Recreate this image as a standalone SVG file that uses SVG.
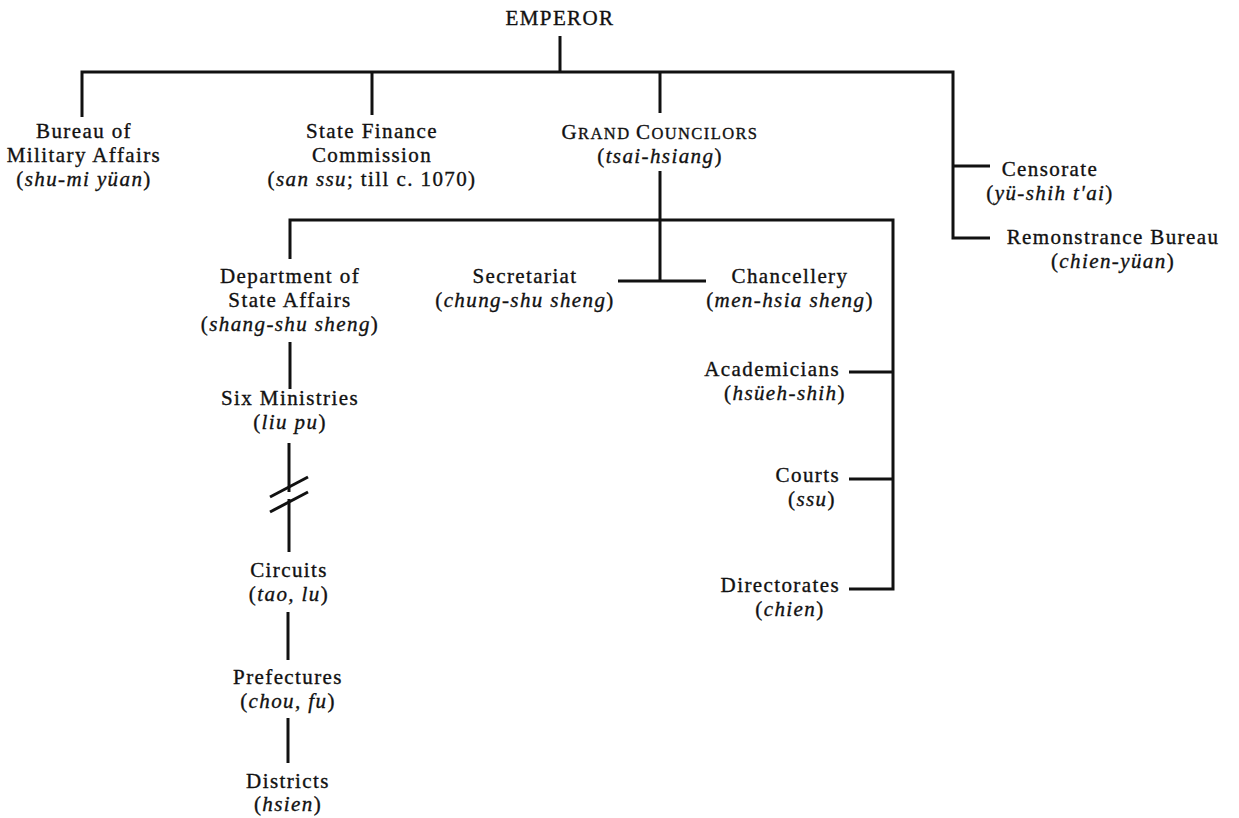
<svg xmlns="http://www.w3.org/2000/svg" width="1239" height="818" viewBox="0 0 1239 818">
  <style>
    text { font-family: "Liberation Serif", "Times New Roman", serif; font-size: 21px; letter-spacing: 1.4px; fill: #111; stroke: #111; stroke-width: 0.35; text-anchor: middle; }
    .it { font-style: italic; }
    .sc { font-size: 16.5px; }
    .end { text-anchor: end; }
    #connectors path { fill: none; stroke: #111; stroke-width: 3; stroke-linecap: butt; stroke-linejoin: miter; }
  </style>
  <rect width="1239" height="818" fill="#fff"/>

  <g id="connectors">
    <path d="M560 36 V72"/>
    <path d="M82 117 V72 H953 V238 H990"/>
    <path d="M372 72 V115"/>
    <path d="M660 72 V113"/>
    <path d="M953 166 H990"/>
    <path d="M660 171 V281"/>
    <path d="M618 281 H706"/>
    <path d="M290 259 V220 H893 V589 H849"/>
    <path d="M849 372 H893"/>
    <path d="M849 479 H893"/>
    <path d="M290 342 V389"/>
    <!-- broken link between ministries and circuits -->
    <path d="M289 443 V492"/>
    <path d="M289 499 V552"/>
    <path d="M270 497 L308 477"/>
    <path d="M270 512 L308 492"/>
    <path d="M288 612 V660"/>
    <path d="M288 718 V763"/>
  </g>

  <g id="emperor"><text x="560" y="25">EMPEROR</text></g>

  <g id="military">
    <text x="84" y="138">Bureau of</text>
    <text x="84" y="162">Military Affairs</text>
    <text x="84" y="186">(<tspan class="it">shu-mi yüan</tspan>)</text>
  </g>

  <g id="finance">
    <text x="372" y="138">State Finance</text>
    <text x="372" y="162">Commission</text>
    <text x="372" y="186">(<tspan class="it">san ssu</tspan>; till c. 1070)</text>
  </g>

  <g id="councilors">
    <text x="660" y="139">G<tspan class="sc">RAND </tspan>C<tspan class="sc">OUNCILORS</tspan></text>
    <text x="660" y="163">(<tspan class="it">tsai-hsiang</tspan>)</text>
  </g>

  <g id="censorate">
    <text x="1050" y="176">Censorate</text>
    <text x="1050" y="200">(<tspan class="it">yü-shih t'ai</tspan>)</text>
  </g>

  <g id="remonstrance">
    <text x="1113" y="244">Remonstrance Bureau</text>
    <text x="1113" y="268">(<tspan class="it">chien-yüan</tspan>)</text>
  </g>

  <g id="state-affairs">
    <text x="290" y="283">Department of</text>
    <text x="290" y="307">State Affairs</text>
    <text x="290" y="331">(<tspan class="it">shang-shu sheng</tspan>)</text>
  </g>

  <g id="secretariat">
    <text x="525" y="283">Secretariat</text>
    <text x="525" y="307">(<tspan class="it">chung-shu sheng</tspan>)</text>
  </g>

  <g id="chancellery">
    <text x="790" y="283">Chancellery</text>
    <text x="790" y="307">(<tspan class="it">men-hsia sheng</tspan>)</text>
  </g>

  <g id="ministries">
    <text x="290" y="405">Six Ministries</text>
    <text x="290" y="429">(<tspan class="it">liu pu</tspan>)</text>
  </g>

  <g id="circuits">
    <text x="289" y="577">Circuits</text>
    <text x="289" y="601">(<tspan class="it">tao, lu</tspan>)</text>
  </g>

  <g id="prefectures">
    <text x="288" y="684">Prefectures</text>
    <text x="288" y="708">(<tspan class="it">chou, fu</tspan>)</text>
  </g>

  <g id="districts">
    <text x="288" y="788">Districts</text>
    <text x="288" y="811">(<tspan class="it">hsien</tspan>)</text>
  </g>

  <g id="academicians">
    <text class="end" x="840" y="376">Academicians</text>
    <text x="785" y="400">(<tspan class="it">hsüeh-shih</tspan>)</text>
  </g>

  <g id="courts">
    <text class="end" x="840" y="482">Courts</text>
    <text x="812" y="506">(<tspan class="it">ssu</tspan>)</text>
  </g>

  <g id="directorates">
    <text class="end" x="840" y="592">Directorates</text>
    <text x="790" y="616">(<tspan class="it">chien</tspan>)</text>
  </g>
</svg>
